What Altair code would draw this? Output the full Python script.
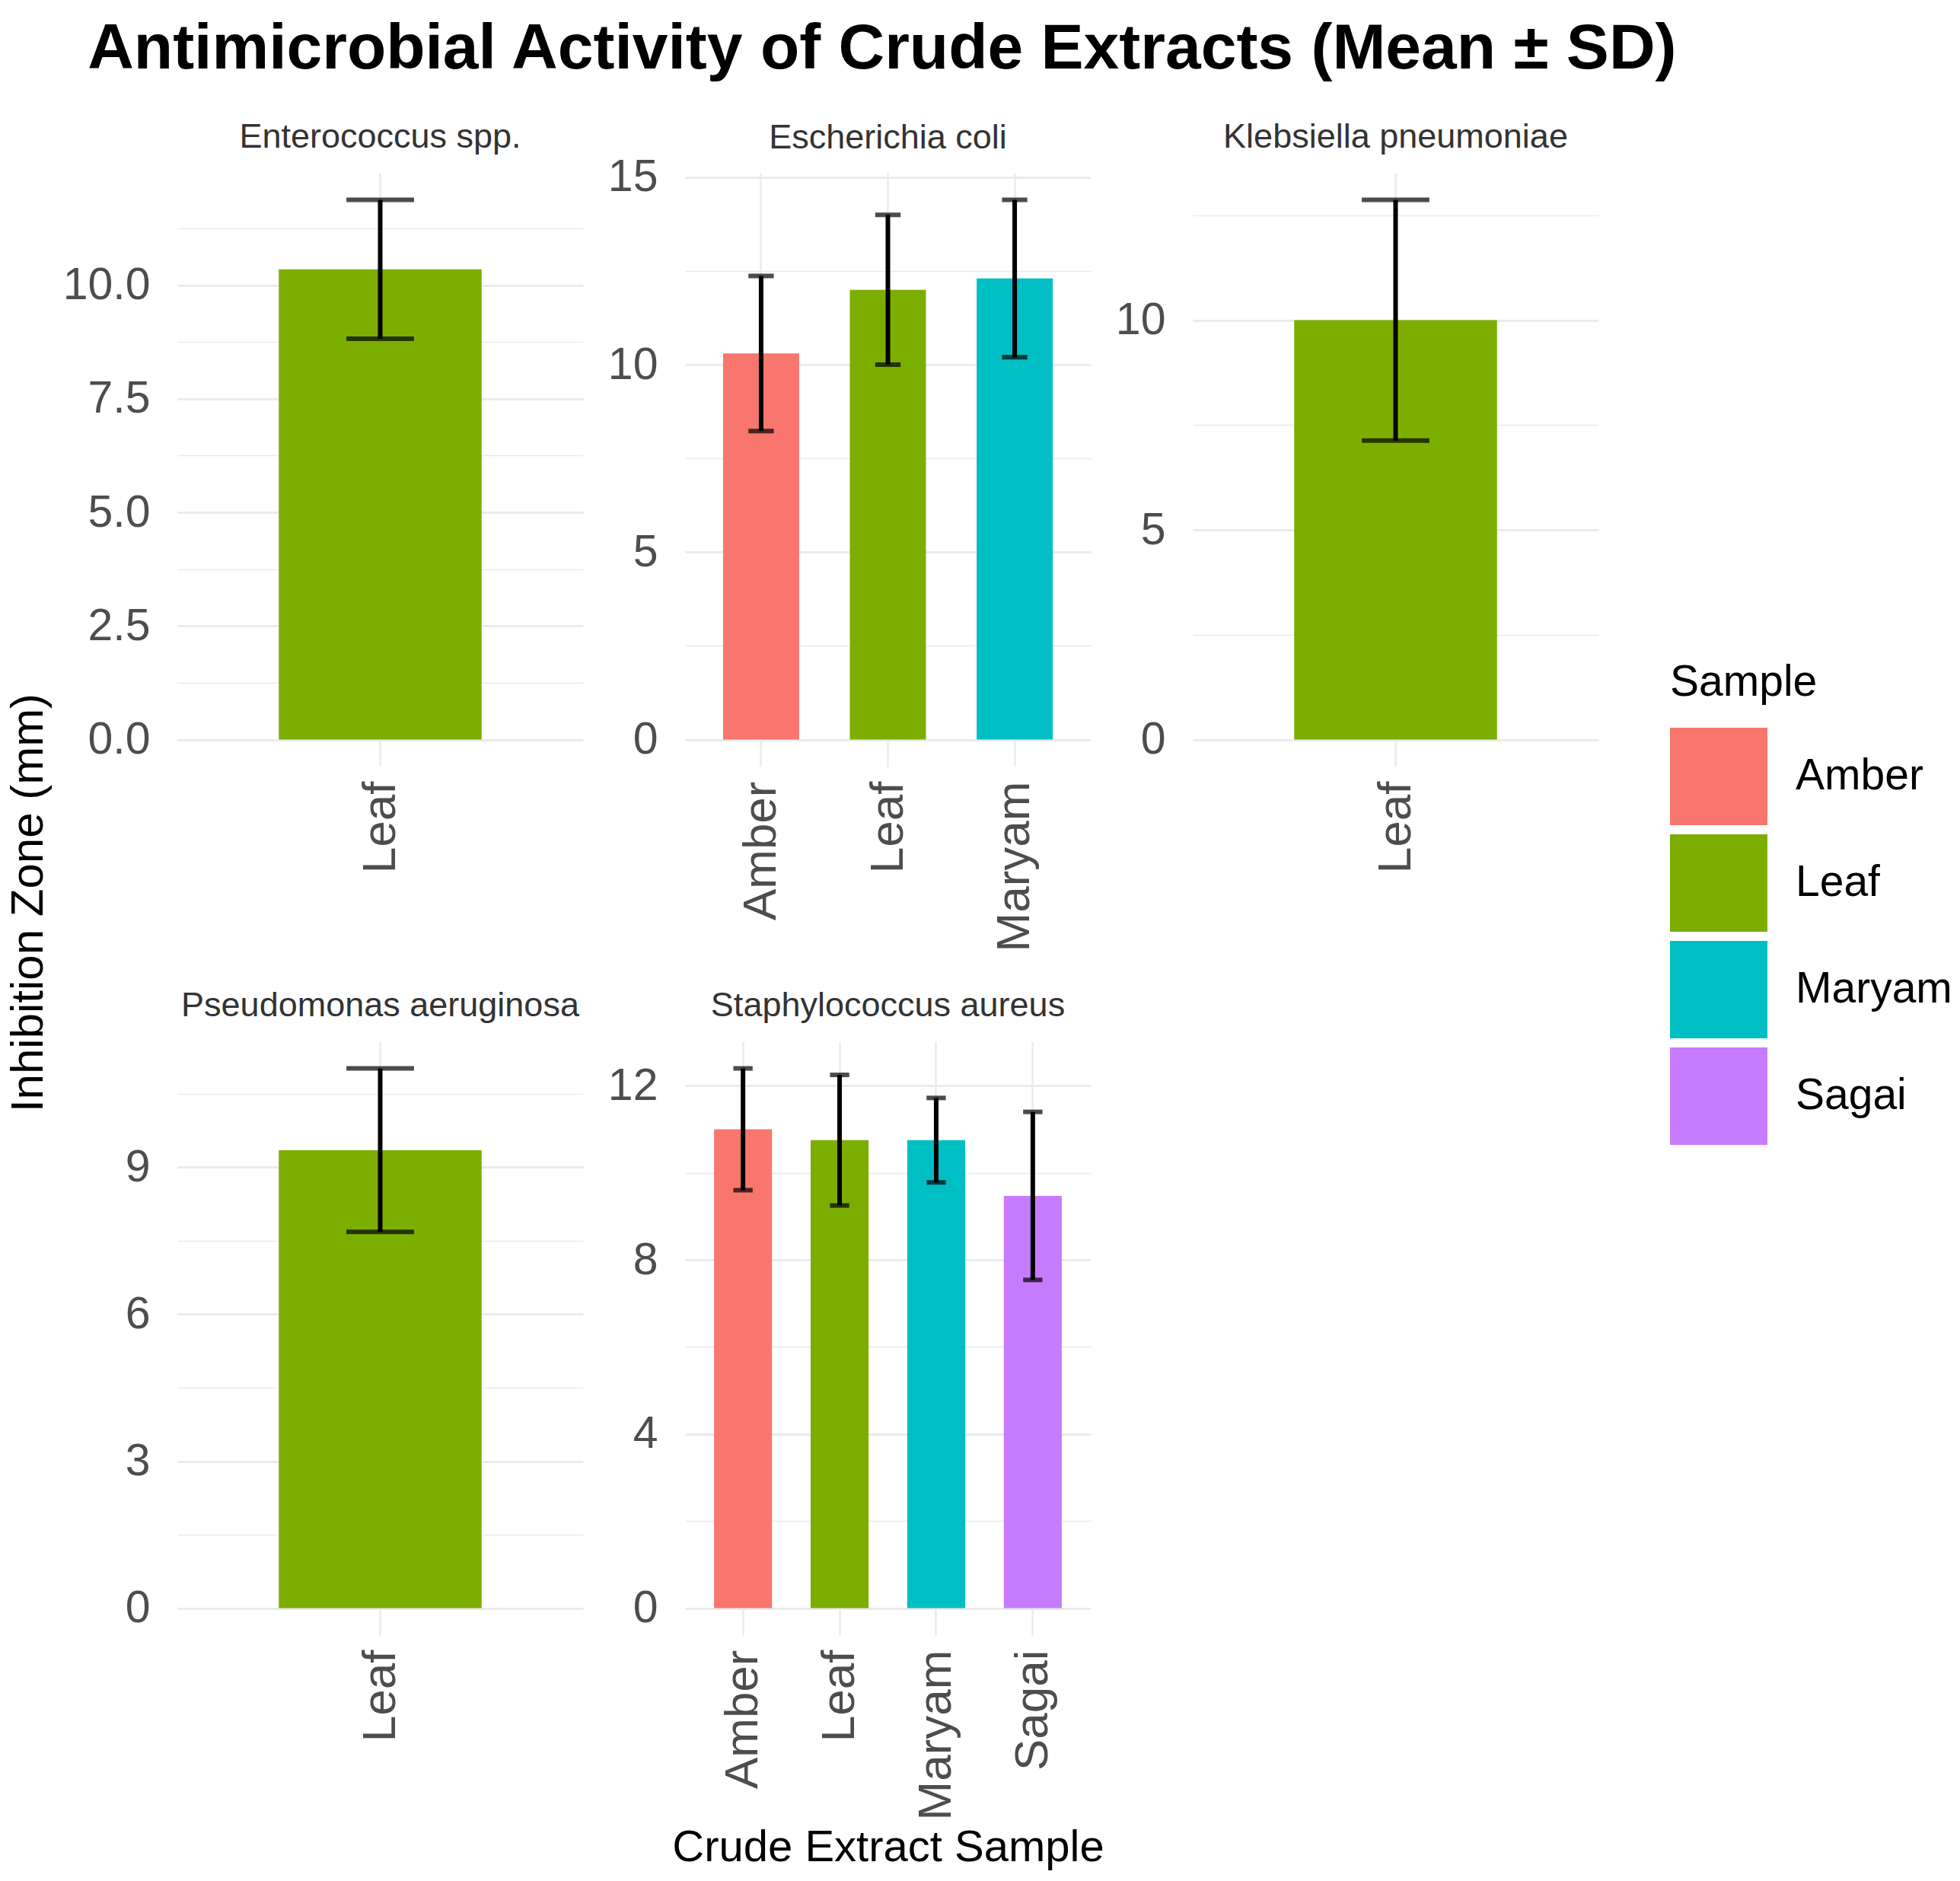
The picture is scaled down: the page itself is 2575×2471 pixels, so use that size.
import altair as alt
import pandas as pd

main_title = "Antimicrobial Activity of Crude Extracts (Mean ± SD)"
y_title = "Inhibition Zone (mm)"
x_title = "Crude Extract Sample"
legend_title = "Sample"

bacteria = ["Enterococcus spp.", "Escherichia coli", "Klebsiella pneumoniae",
            "Pseudomonas aeruginosa", "Staphylococcus aureus"]
sample_levels = ["Amber", "Leaf", "Maryam", "Sagai"]
sample_colors = ["#F8766D", "#7CAE00", "#00BFC4", "#C77CFF"]

row_bacterium = ["Enterococcus spp.",
                 "Escherichia coli", "Escherichia coli", "Escherichia coli",
                 "Klebsiella pneumoniae",
                 "Pseudomonas aeruginosa",
                 "Staphylococcus aureus", "Staphylococcus aureus",
                 "Staphylococcus aureus", "Staphylococcus aureus"]
row_sample = ["Leaf",
              "Amber", "Leaf", "Maryam",
              "Leaf",
              "Leaf",
              "Amber", "Leaf", "Maryam", "Sagai"]
row_mean = [10.35, 10.3, 12.0, 12.3, 10.0, 9.35, 11.0, 10.75, 10.75, 9.47]
row_sd = [1.53, 2.07, 2.0, 2.1, 2.87, 1.67, 1.4, 1.5, 0.97, 1.93]

y_major = {
    "Enterococcus spp.": [0, 2.5, 5, 7.5, 10],
    "Escherichia coli": [0, 5, 10, 15],
    "Klebsiella pneumoniae": [0, 5, 10],
    "Pseudomonas aeruginosa": [0, 3, 6, 9],
    "Staphylococcus aureus": [0, 4, 8, 12],
}
y_minor = {
    "Enterococcus spp.": [1.25, 3.75, 6.25, 8.75, 11.25],
    "Escherichia coli": [2.5, 7.5, 12.5],
    "Klebsiella pneumoniae": [2.5, 7.5, 12.5],
    "Pseudomonas aeruginosa": [1.5, 4.5, 7.5, 10.5],
    "Staphylococcus aureus": [2, 6, 10],
}
y_format = {
    "Enterococcus spp.": ".1f",
    "Escherichia coli": "d",
    "Klebsiella pneumoniae": "d",
    "Pseudomonas aeruginosa": "d",
    "Staphylococcus aureus": "d",
}

df = pd.DataFrame({"bacterium": row_bacterium, "sample": row_sample,
                   "mean": row_mean, "sd": row_sd})

FONT = "Liberation Sans"
PW, PH = 533, 780
GRID = "#EBEBEB"
LEG_X, LEG_Y = 1961, 642
YLAB_FS = 59
TITLE_OFF = 24


def panel(name, y_extent, show_xtitle):
    d = df[df["bacterium"] == name].reset_index(drop=True)
    top = float((d["mean"] + d["sd"]).max())
    lo, hi = -0.05 * top, 1.05 * top
    n = len(d)
    cap = 0.2 * PW / (n + 0.2)
    majors = y_major[name]
    vals = sorted(majors + y_minor[name])
    # keep strip titles level when the top tick label pokes above the panel
    dist = (hi - max(majors)) / (hi - lo) * PH
    overflow = max(0.0, YLAB_FS / 2 - dist)
    t_off = max(0.0, TITLE_OFF - overflow)
    maj_js = "[" + ",".join(str(v) for v in majors) + "]"
    is_minor = f"indexof({maj_js}, datum.value) < 0"
    base = alt.Chart(d).transform_calculate(
        lo="datum.mean - datum.sd", hi="datum.mean + datum.sd"
    ).encode(
        x=alt.X("sample:N", sort=sample_levels,
                title=x_title if show_xtitle else None,
                scale=alt.Scale(paddingInner=0.4, paddingOuter=0.3),
                axis=alt.Axis(labelAngle=270, grid=True, gridColor=GRID,
                              gridWidth=2.5, ticks=False, domain=False,
                              labelPadding=19, labelFontSize=62, labelLimit=600,
                              labelColor="#4D4D4D",
                              titleFontSize=58, titleFontWeight="normal",
                              titleColor="#000000", titlePadding=50))
    )
    yscale = alt.Scale(domain=[lo, hi], nice=False, zero=False)
    yaxis = alt.Axis(values=vals,
                     labelExpr=f"{is_minor} ? '' : format(datum.value, '{y_format[name]}')",
                     gridColor=GRID,
                     gridWidth={"condition": {"test": is_minor, "value": 1.5}, "value": 3},
                     ticks=False, domain=False, labelOverlap=False,
                     labelFontSize=YLAB_FS, labelColor="#4D4D4D", labelPadding=36,
                     minExtent=y_extent, maxExtent=y_extent)
    bars = base.mark_bar().encode(
        y=alt.Y("mean:Q", title=None, scale=yscale, axis=yaxis),
        color=alt.Color("sample:N",
                        scale=alt.Scale(domain=sample_levels, range=sample_colors),
                        legend=alt.Legend(title=legend_title, orient="none",
                                          legendX=LEG_X, legendY=LEG_Y)),
    )
    err = base.mark_rule(color="black", strokeWidth=6).encode(
        y=alt.Y("lo:Q", title=None), y2="hi:Q")
    cap_hi = base.mark_tick(color="black", thickness=6, size=cap).encode(
        y=alt.Y("hi:Q", title=None))
    cap_lo = base.mark_tick(color="black", thickness=6, size=cap).encode(
        y=alt.Y("lo:Q", title=None))
    return alt.layer(bars, err, cap_hi, cap_lo).properties(
        width=PW, height=PH,
        title=alt.TitleParams(name, fontSize=45, fontWeight="normal",
                              color="#333333", anchor="middle", frame="group",
                              offset=t_off, font=FONT))


SP = 10
E1 = 150
E2 = 134 - SP
row1 = alt.hconcat(panel(bacteria[0], E1, False), panel(bacteria[1], E2, False),
                   panel(bacteria[2], E2, False), spacing=SP)
row2 = alt.hconcat(panel(bacteria[3], E1, False), panel(bacteria[4], E2, True),
                   spacing=SP)

grid = alt.vconcat(row1, row2, spacing=49).properties(
    title=alt.TitleParams(y_title, orient="left", anchor="middle", fontSize=60,
                          fontWeight="normal", color="#000000", offset=13,
                          dx=121, font=FONT))

chart = alt.vconcat(grid).properties(
    title=alt.TitleParams(main_title, anchor="start", fontSize=84,
                          fontWeight="bold", color="#000000", font=FONT,
                          offset=50, dx=107),
    padding={"left": 8, "top": 23, "right": 5, "bottom": 5},
).configure(font=FONT).configure_view(stroke=None).configure_legend(
    symbolType="square", symbolSize=128 * 128, symbolStrokeWidth=0,
    labelFontSize=57, titleFontSize=57, titleFontWeight="normal",
    labelColor="#000000", titleColor="#000000", rowPadding=12,
    labelOffset=37, titlePadding=30, labelFont=FONT, titleFont=FONT,
    labelLimit=600, titleLimit=600,
)

chart.save("out.html", embed_options={"renderer": "svg", "actions": False})
